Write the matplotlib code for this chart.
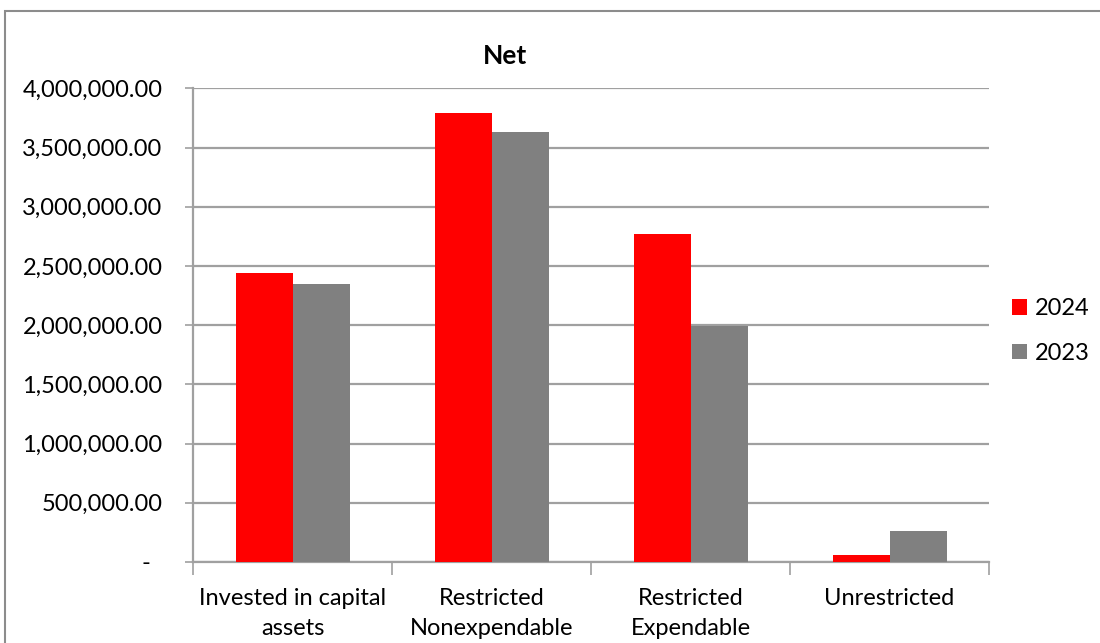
import numpy as np
import matplotlib
matplotlib.use("Agg")
import matplotlib.pyplot as plt
from matplotlib.patches import Rectangle
from matplotlib.ticker import FuncFormatter, FixedLocator

plt.rcParams['font.family'] = ['Lato', 'DejaVu Sans']

categories = ["Invested in capital\nassets", "Restricted\nNonexpendable",
              "Restricted\nExpendable", "Unrestricted"]
values_2024 = [2441000, 3792000, 2770000, 55000]
values_2023 = [2348000, 3632000, 1996000, 260000]
series_labels = ["2024", "2023"]
yticks = [0, 500000, 1000000, 1500000, 2000000, 2500000, 3000000, 3500000, 4000000]

W, H = 1100, 643
fig = plt.figure(figsize=(11, 6.43), dpi=100)
ax = fig.add_axes([193 / W, 1 - 562 / H, (989 - 193) / W, (562 - 88.4) / H])

x = np.arange(len(categories))
w = 57 / 199
ax.bar(x - w / 2, values_2024, w, color="#ff0000", label=series_labels[0], zorder=3)
ax.bar(x + w / 2, values_2023, w, color="#808080", label=series_labels[1], zorder=3)

ax.set_xlim(-0.5, len(categories) - 0.5)
ax.set_ylim(0, 4000000)

ax.yaxis.set_major_locator(FixedLocator(yticks))
ax.yaxis.set_major_formatter(FuncFormatter(lambda v, p: "-  " if v == 0 else f"{v:,.2f}"))
ax.grid(axis="y", color="#a0a0a0", linewidth=1.6, zorder=0)

ax.set_xticks(np.arange(-0.5, len(categories), 1.0))
ax.set_xticklabels([])
ax.set_xticks(x, minor=True)
ax.set_xticklabels(categories, minor=True, linespacing=1.5)
ax.tick_params(axis="x", which="major", length=9, width=1.2, color="#a0a0a0", direction="out")
ax.tick_params(axis="x", which="minor", length=0, pad=19, labelsize=17)
ax.tick_params(axis="y", length=6, width=1.2, color="#a0a0a0", pad=16, labelsize=17)

for s in ["top", "right"]:
    ax.spines[s].set_visible(False)
for s in ["left", "bottom"]:
    ax.spines[s].set_color("#a0a0a0")
    ax.spines[s].set_linewidth(1.6)

fig.text(505 / W, 1 - 56 / H, "Net", ha="center", va="center", fontsize=19, fontweight="bold")

fig.legend(loc="center left", bbox_to_anchor=(1012 / W, 1 - 331 / H), frameon=False,
           fontsize=17, handlelength=0.65, handleheight=0.65, handletextpad=0.3,
           labelspacing=1.0, borderpad=0, borderaxespad=0)

fig.patches.append(Rectangle((5 / W, -0.1), 1.2, 1 - 11 / H + 0.1, transform=fig.transFigure,
                             fill=False, edgecolor="#8c8c8c", linewidth=1.5))

fig.savefig("out.png", dpi=100)
